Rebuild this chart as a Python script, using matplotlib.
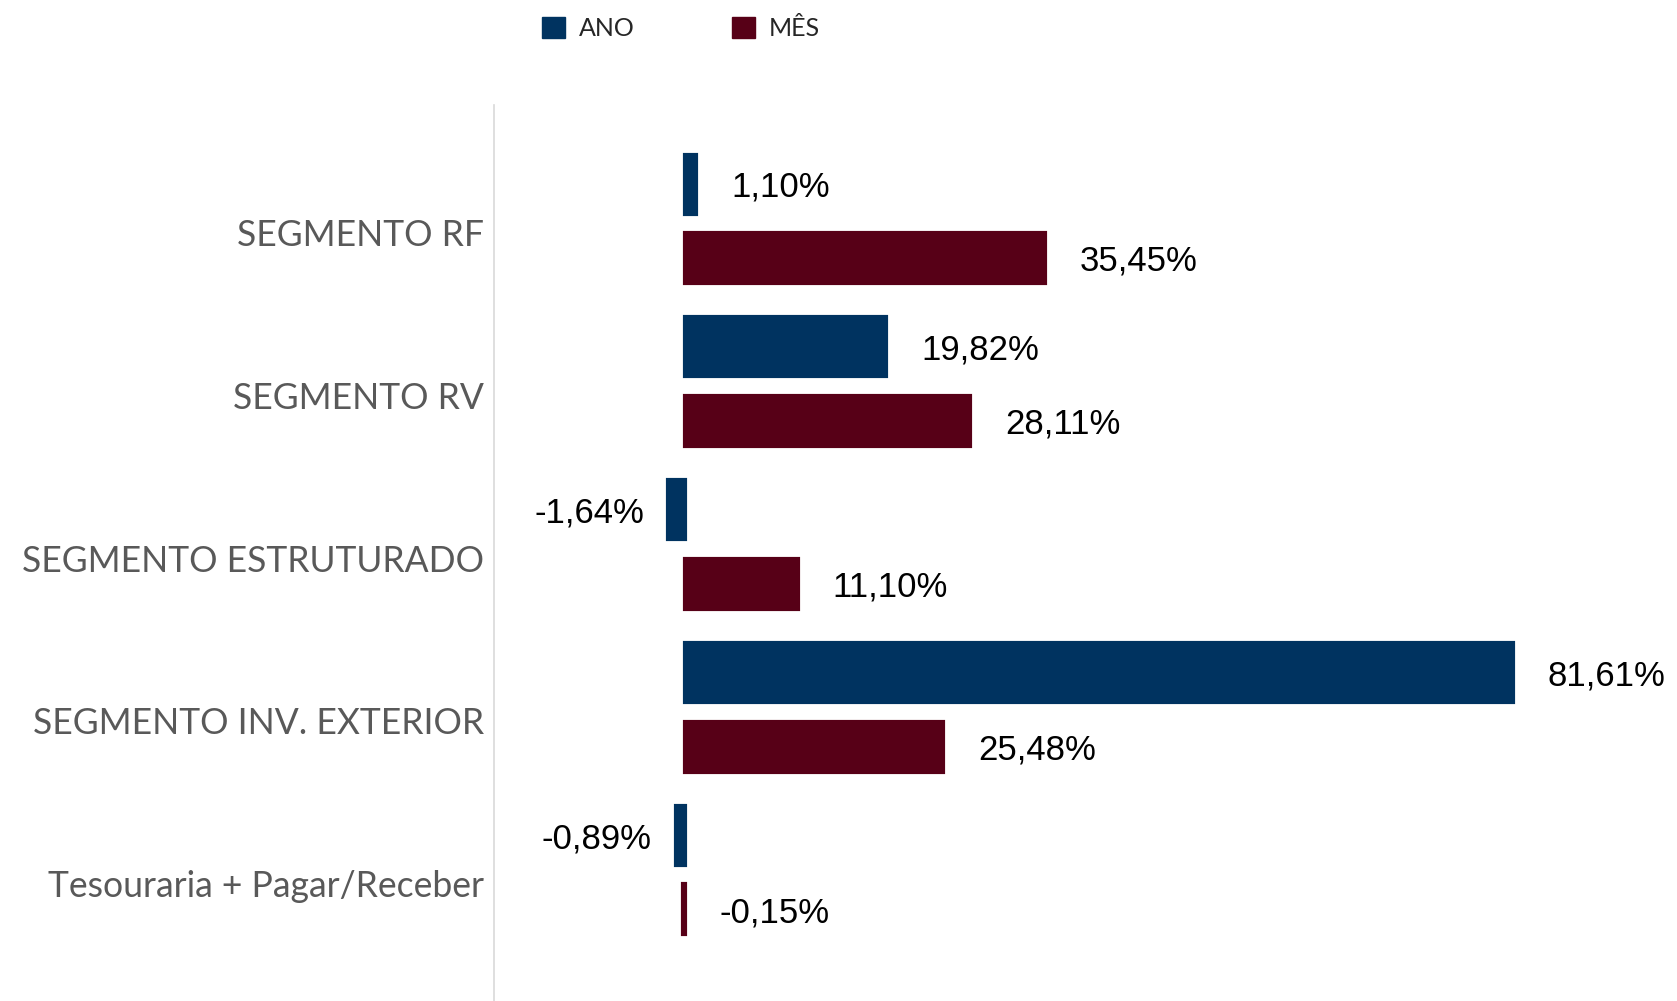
import matplotlib
matplotlib.use("Agg")
import matplotlib.pyplot as plt
import matplotlib.patches as mpatches
import numpy as np

categories = ["SEGMENTO RF", "SEGMENTO RV", "SEGMENTO ESTRUTURADO",
              "SEGMENTO INV. EXTERIOR", "Tesouraria + Pagar/Receber"]
ano = [1.10, 19.82, -1.64, 81.61, -0.89]
mes = [35.45, 28.11, 11.10, 25.48, -0.15]
series_names = ["ANO", "MÊS"]
colors = ["#003360", "#570017"]

W, H = 1677, 1001
fig = plt.figure(figsize=(W / 100, H / 100), dpi=100)
ax_left = 494.4 / W
ax_top = 105 / H
ax = fig.add_axes([ax_left, 0, 1 - ax_left, 1 - ax_top])

pxu = 10.145  # px per percent unit
ax.set_xlim(-18.78, 97.79)
ax.set_ylim(4.802, -0.715)

y = np.arange(len(categories)) * 1.0025
off = 0.228
h_ano, h_mes = 0.363, 0.308

for vals, yy, hh, col, name in [(ano, y - off, h_ano, colors[0], series_names[0]),
                                (mes, y + off, h_mes, colors[1], series_names[1])]:
    ax.barh(yy, vals, height=hh, color=col, edgecolor=col, linewidth=3, label=name)
    for v, yv in zip(vals, yy):
        txt = f"{v:.2f}".replace(".", ",") + "%"
        if v > -0.5:
            ax.text(max(v, 0) + 35 / pxu, yv + 0.02, txt, ha="left", va="center",
                    fontsize=25, family="Liberation Sans", color="black")
        else:
            ax.text(v - 24 / pxu, yv + 0.02, txt, ha="right", va="center",
                    fontsize=25, family="Liberation Sans", color="black")

# category labels
for i, c in enumerate(categories):
    ax.text(-0.0085, y[i] + 0.088, c, transform=ax.get_yaxis_transform(),
            ha="right", va="center", fontsize=25.6, family="Lato", color="#595959")

ax.set_xticks([])
ax.set_yticks([])
for s in ["top", "right", "bottom"]:
    ax.spines[s].set_visible(False)
ax.spines["left"].set_color("#d9d9d9")
ax.spines["left"].set_linewidth(1.2)

handles = [mpatches.Patch(color=colors[0], label=series_names[0]),
           mpatches.Patch(color=colors[1], label=series_names[1])]
fig.legend(handles=handles, loc="upper left", bbox_to_anchor=(542 / W, 1 - 17 / H),
           ncol=2, frameon=False, borderpad=0, borderaxespad=0,
           handlelength=0.92, handleheight=0.92, handletextpad=0.55,
           columnspacing=3.9, prop={"family": "Lato", "size": 18},
           labelcolor="#262626")

fig.savefig("out.png", dpi=100, facecolor="white")
